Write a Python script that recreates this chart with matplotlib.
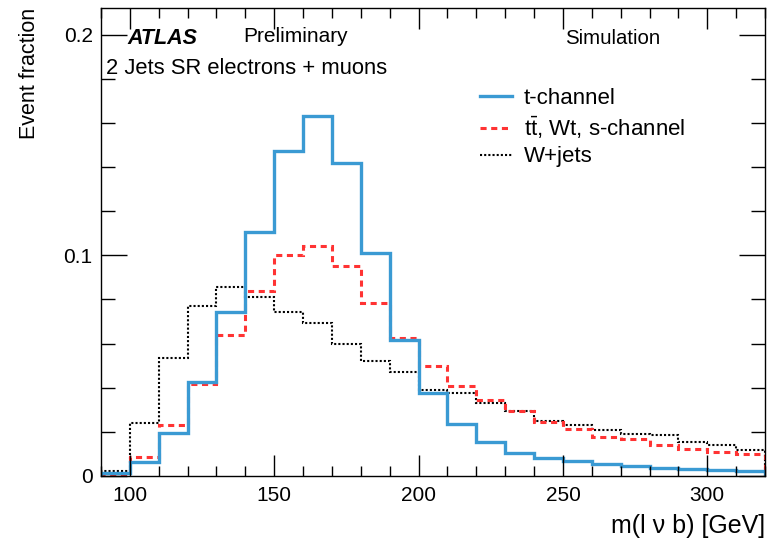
import matplotlib
matplotlib.use("Agg")
import matplotlib.pyplot as plt
import numpy as np
from matplotlib.ticker import MultipleLocator

plt.rcParams["font.family"] = ["Liberation Sans", "DejaVu Sans"]
plt.rcParams["mathtext.fontset"] = "custom"
plt.rcParams["mathtext.rm"] = "Liberation Sans"

# bin edges m(l nu b) in GeV
edges = np.arange(90, 330, 10)

# event fractions per bin
tchannel = [0.0015, 0.0065, 0.0196, 0.0427, 0.0741, 0.1104, 0.1471, 0.1630,
            0.1418, 0.1008, 0.0615, 0.0374, 0.0234, 0.0153, 0.0104, 0.0081,
            0.0068, 0.0054, 0.0044, 0.0036, 0.0030, 0.0027, 0.0024]
top_bkg = [0.0010, 0.0087, 0.0231, 0.0416, 0.0637, 0.0838, 0.1003, 0.1042,
           0.0952, 0.0784, 0.0626, 0.0499, 0.0409, 0.0344, 0.0293, 0.0244,
           0.0211, 0.0177, 0.0166, 0.0140, 0.0122, 0.0109, 0.0098]
wjets = [0.0024, 0.0241, 0.0533, 0.0771, 0.0854, 0.0809, 0.0743, 0.0694,
         0.0596, 0.0520, 0.0472, 0.0389, 0.0377, 0.0332, 0.0293, 0.0248,
         0.0232, 0.0208, 0.0190, 0.0184, 0.0154, 0.0140, 0.0118]

labels = ["t-channel", r"t$\mathrm{\bar{t}}$, Wt, s-channel", "W+jets"]

fig = plt.figure(figsize=(7.77, 5.39), dpi=100)
ax = fig.add_axes([0.1300, 0.117, 0.8546, 0.868])

ax.stairs(wjets, edges, color="black", linestyle=(0, (1, 1)), linewidth=1.5, label=labels[2])
ax.stairs(top_bkg, edges, color="#ff3333", linestyle=(0, (2, 1.5)), linewidth=2.2, label=labels[1])
ax.stairs(tchannel, edges, color="#3a9ad3", linewidth=2.4, label=labels[0])

ax.set_xlim(90, 320)
ax.set_ylim(0, 0.212)
ax.xaxis.set_major_locator(MultipleLocator(50))
ax.xaxis.set_minor_locator(MultipleLocator(10))
ax.yaxis.set_major_locator(MultipleLocator(0.1))
ax.yaxis.set_minor_locator(MultipleLocator(0.02))
ax.set_yticks([0, 0.1, 0.2])
ax.set_yticklabels(["0", "0.1", "0.2"])
ax.tick_params(which="both", direction="in", top=True, right=True, labelsize=15, width=1)
ax.tick_params(axis="x", which="major", length=15, pad=7)
ax.tick_params(axis="x", which="minor", length=7)
ax.tick_params(axis="y", which="major", length=19, pad=6)
ax.tick_params(axis="y", which="minor", length=10)
for s in ax.spines.values():
    s.set_linewidth(1)

ax.set_xlabel("m(l \u03bd b) [GeV]", fontsize=18, loc="right", labelpad=7)
ax.set_ylabel("Event fraction", fontsize=15.5, loc="top", labelpad=17)

# ATLAS labels
fig.text(127 / 777, 1 - 38 / 539, "ATLAS", fontsize=15.5, fontweight="bold", style="italic", va="center")
fig.text(243 / 777, 1 - 37 / 539, "Preliminary", fontsize=15, va="center")
fig.text(565 / 777, 1 - 38 / 539, "Simulation", fontsize=14.7, va="center")
fig.text(106 / 777, 1 - 68 / 539, "2 Jets SR electrons + muons", fontsize=15.8, va="center")

# legend with t-channel first
h, l = ax.get_legend_handles_labels()
ax.legend(h[::-1], l[::-1], loc="upper left", bbox_to_anchor=(0.571, 0.829), frameon=False,
          fontsize=16, handlelength=1.45, handletextpad=0.5, labelspacing=0.25, borderaxespad=0,
          borderpad=0)

fig.savefig("out.png", dpi=100)
